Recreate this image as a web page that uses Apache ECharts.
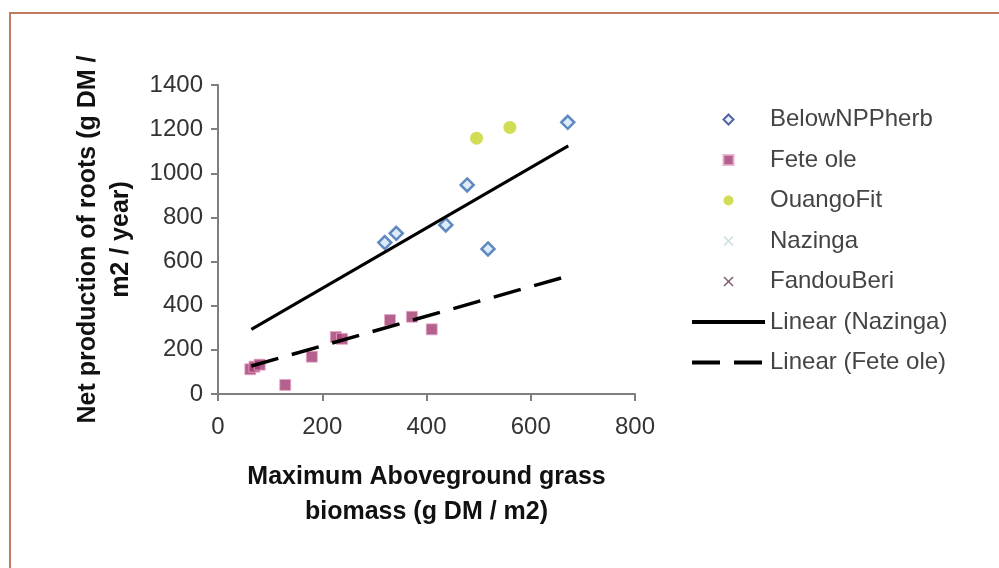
<!DOCTYPE html>
<html>
<head>
<meta charset="utf-8">
<script src="https://cdn.jsdelivr.net/npm/echarts@6/dist/echarts.min.js"></script>
<style>
html,body{margin:0;padding:0;background:#fff;}
#chart{width:999px;height:568px;}
</style>
</head>
<body>
<div id="chart"></div>
<script>
// Data
var xTicks = [0, 200, 400, 600, 800];
var yTicks = [0, 200, 400, 600, 800, 1000, 1200, 1400];
var belowNPPherb = [[320, 686], [342, 728], [437, 766], [478, 947], [518, 657], [671, 1231]];
var feteOle = [[62, 112], [70, 124], [80, 133], [129, 41], [180, 169], [226, 258], [238, 250], [330, 335], [372, 350], [410, 293]];
var ouangoFit = [[496, 1159], [560, 1208]];
var nazinga = [];
var fandouBeri = [];
var trendNazinga = [[64, 293], [672, 1124]];
var trendFeteOle = [[64, 127], [672, 535]];
var legendNames = ['BelowNPPherb', 'Fete ole', 'OuangoFit', 'Nazinga', 'FandouBeri', 'Linear (Nazinga)', 'Linear (Fete ole)'];

var diamondPath = 'path://M5,0 L10,5 L5,10 L0,5 Z';
var squarePath = 'path://M0,0 L10,0 L10,10 L0,10 Z';
var circlePath = 'path://M5,0 A5,5 0 1,1 5,10 A5,5 0 1,1 5,0 Z';
var crossPath = 'path://M1,0 L5,4 L9,0 L10,1 L6,5 L10,9 L9,10 L5,6 L1,10 L0,9 L4,5 L0,1 Z';
var font = 'Liberation Sans, Arial, sans-serif';

var hiddenDot = { color: 'rgba(0,0,0,0)', opacity: 0, borderWidth: 0 };
var legendData = legendNames.map(function (n, i) {
  if (i === 0) return { name: n, itemStyle: { color: '#e8eef8', borderColor: '#2a3f8a', borderWidth: 2 } };
  return i >= 5 ? { name: n, itemStyle: hiddenDot, lineStyle: { width: 4 } } : { name: n };
});

var chart = echarts.init(document.getElementById('chart'));
chart.setOption({
  backgroundColor: '#ffffff',
  animation: false,
  graphic: [{
    type: 'rect',
    shape: { x: 10, y: 13, width: 1200, height: 800 },
    style: { fill: 'none', stroke: '#c07a60', lineWidth: 2 },
    silent: true
  }],
  grid: { left: 218, top: 85, width: 417, height: 309, containLabel: false },
  legend: {
    data: legendData,
    orient: 'vertical',
    left: 685,
    top: 102,
    itemWidth: 73,
    itemHeight: 10,
    itemGap: 15.5,
    symbolKeepAspect: true,
    textStyle: { fontFamily: font, fontSize: 24, color: '#444', lineHeight: 25 }
  },
  xAxis: {
    type: 'value',
    min: xTicks[0], max: xTicks[xTicks.length - 1], interval: 200,
    splitLine: { show: false },
    axisLine: { show: true, onZero: false, lineStyle: { color: '#7f7f7f', width: 2 } },
    axisTick: { show: true, length: 7, lineStyle: { color: '#7f7f7f', width: 2 } },
    axisLabel: { fontFamily: font, fontSize: 24, color: '#333', margin: 21 },
    name: 'Maximum Aboveground grass\nbiomass (g DM / m2)',
    nameLocation: 'middle',
    nameGap: 66,
    nameTextStyle: { fontFamily: font, fontSize: 25, fontWeight: 'bold', color: '#111', lineHeight: 35 }
  },
  yAxis: {
    type: 'value',
    min: yTicks[0], max: yTicks[yTicks.length - 1], interval: 200,
    splitLine: { show: false },
    axisLine: { show: true, onZero: false, lineStyle: { color: '#7f7f7f', width: 2 } },
    axisTick: { show: true, length: 7, lineStyle: { color: '#7f7f7f', width: 2 } },
    axisLabel: { fontFamily: font, fontSize: 24, color: '#333', margin: 15,
      formatter: function (v) { return String(v); } },
    name: 'Net production of roots (g DM /\nm2 / year)',
    nameLocation: 'middle',
    nameRotate: 90,
    nameGap: 80,
    nameTextStyle: { fontFamily: font, fontSize: 25, fontWeight: 'bold', color: '#111', lineHeight: 33 }
  },
  series: [
    { name: 'BelowNPPherb', type: 'scatter', data: belowNPPherb, symbol: diamondPath, symbolSize: 13,
      itemStyle: { color: '#d6e6f7', borderColor: '#3a6db0', borderWidth: 2.5 } },
    { name: 'Fete ole', type: 'scatter', data: feteOle, symbol: squarePath, symbolSize: 11,
      itemStyle: { color: '#a33a72', borderColor: '#e9a8c8', borderWidth: 1 } },
    { name: 'OuangoFit', type: 'scatter', data: ouangoFit, symbol: circlePath, symbolSize: 13,
      itemStyle: { color: '#c5d42a' } },
    { name: 'Nazinga', type: 'scatter', data: nazinga, symbol: crossPath, symbolSize: 10,
      itemStyle: { color: '#b9d5d8' } },
    { name: 'FandouBeri', type: 'scatter', data: fandouBeri, symbol: crossPath, symbolSize: 10,
      itemStyle: { color: '#5a2a48' } },
    { name: 'Linear (Nazinga)', type: 'line', data: trendNazinga, symbol: 'none', showSymbol: false,
      itemStyle: { color: '#000' }, lineStyle: { color: '#000', width: 3 }, z: 5 },
    { name: 'Linear (Fete ole)', type: 'line', data: trendFeteOle, symbol: 'none', showSymbol: false,
      itemStyle: { color: '#000' }, lineStyle: { color: '#000', width: 3.5, type: [28, 14] }, z: 5 }
  ]
});
</script>
</body>
</html>
